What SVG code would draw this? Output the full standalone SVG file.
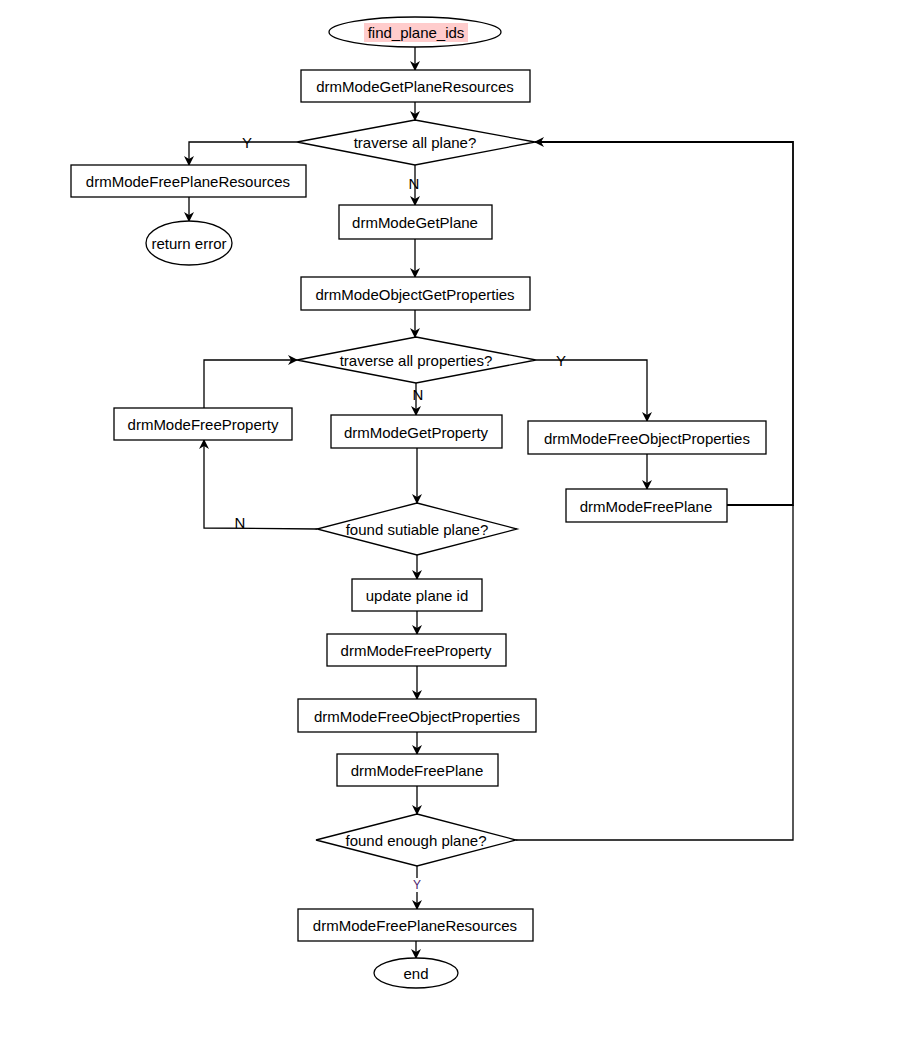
<svg xmlns="http://www.w3.org/2000/svg" width="899" height="1043" viewBox="0 0 899 1043">
<defs>
<marker id="ar" markerWidth="10" markerHeight="10" refX="9" refY="5" orient="auto" markerUnits="userSpaceOnUse"><path d="M0,0 L10,5 L0,10 L3,5 Z" fill="#000"/></marker>
<style>
.s{fill:#fff;stroke:#000;stroke-width:1.3}
.t{font-family:"Liberation Sans",Arial,sans-serif;font-size:15px;fill:#000;text-anchor:middle;dominant-baseline:central}
.l{fill:none;stroke:#000;stroke-width:1.3;marker-end:url(#ar)}
.n{fill:none;stroke:#000;stroke-width:1.3}
</style>
</defs>
<rect width="899" height="1043" fill="#fff"/>
<g id="connectors">
<path class="l" d="M415,47 V70"/>
<path class="l" d="M415,102 V120"/>
<path class="l" d="M297,142 H189 V165"/>
<path class="l" d="M189,197 V221"/>
<path class="l" d="M415,165 V205"/>
<path class="l" d="M415,239 V277"/>
<path class="l" d="M415,310 V337"/>
<path class="l" d="M536,360 H647 V421"/>
<path class="l" d="M416,383 V415"/>
<path class="l" d="M647,454 V489"/>
<path class="l" d="M727,505 H793 V142 H535" style="stroke-width:1.8"/>
<path class="l" d="M417,448 V503"/>
<path class="l" d="M317,529 L204,528 V440"/>
<path class="l" d="M204,408 V360 H297"/>
<path class="l" d="M417,555 V579"/>
<path class="l" d="M417,611 V634"/>
<path class="l" d="M417,666 V699"/>
<path class="l" d="M417,732 V754"/>
<path class="l" d="M417,786 V814"/>
<path class="n" d="M516,840 H793 V505"/>
<path class="l" d="M417,866 V909"/>
<path class="l" d="M416,941 V958"/>
<text class="t" x="247" y="142">Y</text>
<text class="t" x="414" y="183">N</text>
<text class="t" x="561" y="360">Y</text>
<text class="t" x="418" y="394">N</text>
<text class="t" x="240" y="522">N</text>
<rect x="411" y="878" width="12" height="14" fill="#fff"/>
<text class="t" x="417" y="885" style="font-size:12px;fill:#4c1d6e">Y</text>
</g>
<g id="start"><ellipse class="s" cx="415" cy="32" rx="86" ry="15"/><rect x="364" y="23" width="104" height="19" fill="#ffcccc"/><text class="t" x="416" y="32">find_plane_ids</text></g>
<g id="getPlaneRes"><rect class="s" x="301" y="70" width="229" height="32"/><text class="t" x="415" y="86">drmModeGetPlaneResources</text></g>
<g id="d1"><polygon class="s" points="415,120 535,142 415,165 297,142"/><text class="t" x="415" y="142">traverse all plane?</text></g>
<g id="freePlaneRes1"><rect class="s" x="71" y="165" width="235" height="32"/><text class="t" x="188" y="181">drmModeFreePlaneResources</text></g>
<g id="retErr"><ellipse class="s" cx="189" cy="243" rx="43" ry="22"/><text class="t" x="189" y="243">return error</text></g>
<g id="getPlane"><rect class="s" x="339" y="205" width="153" height="34"/><text class="t" x="415" y="222">drmModeGetPlane</text></g>
<g id="objGetProps"><rect class="s" x="301" y="277" width="229" height="33"/><text class="t" x="415" y="294">drmModeObjectGetProperties</text></g>
<g id="d2"><polygon class="s" points="416,337 536,360 416,383 297,360"/><text class="t" x="416" y="360">traverse all properties?</text></g>
<g id="freeProp1"><rect class="s" x="114" y="408" width="178" height="32"/><text class="t" x="203" y="424">drmModeFreeProperty</text></g>
<g id="getProp"><rect class="s" x="331" y="415" width="171" height="33"/><text class="t" x="416" y="432">drmModeGetProperty</text></g>
<g id="freeObjProps1"><rect class="s" x="528" y="421" width="238" height="33"/><text class="t" x="647" y="438">drmModeFreeObjectProperties</text></g>
<g id="freePlane1"><rect class="s" x="566" y="489" width="161" height="33"/><text class="t" x="646" y="506">drmModeFreePlane</text></g>
<g id="d3"><polygon class="s" points="417,503 517,529 417,555 317,529"/><text class="t" x="417" y="529">found sutiable plane?</text></g>
<g id="updId"><rect class="s" x="352" y="579" width="130" height="32"/><text class="t" x="417" y="595">update plane id</text></g>
<g id="freeProp2"><rect class="s" x="327" y="634" width="179" height="32"/><text class="t" x="416" y="650">drmModeFreeProperty</text></g>
<g id="freeObjProps2"><rect class="s" x="298" y="699" width="238" height="33"/><text class="t" x="417" y="716">drmModeFreeObjectProperties</text></g>
<g id="freePlane2"><rect class="s" x="337" y="754" width="161" height="32"/><text class="t" x="417" y="770">drmModeFreePlane</text></g>
<g id="d4"><polygon class="s" points="417,814 516,840 417,866 316,840"/><text class="t" x="416" y="840">found enough plane?</text></g>
<g id="freePlaneRes2"><rect class="s" x="298" y="909" width="235" height="32"/><text class="t" x="415" y="925">drmModeFreePlaneResources</text></g>
<g id="end"><ellipse class="s" cx="416" cy="973" rx="42" ry="15"/><text class="t" x="416" y="973">end</text></g>
</svg>
